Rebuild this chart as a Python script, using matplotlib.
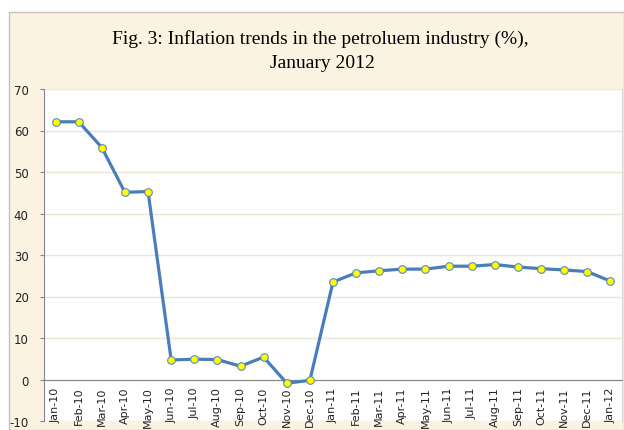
# Fig. 3: Inflation trends in the petroleum industry (%)

import matplotlib.pyplot as plt
from matplotlib.patches import Rectangle

months = ['Jan-10', 'Feb-10', 'Mar-10', 'Apr-10', 'May-10', 'Jun-10', 'Jul-10',
          'Aug-10', 'Sep-10', 'Oct-10', 'Nov-10', 'Dec-10', 'Jan-11', 'Feb-11',
          'Mar-11', 'Apr-11', 'May-11', 'Jun-11', 'Jul-11', 'Aug-11', 'Sep-11',
          'Oct-11', 'Nov-11', 'Dec-11', 'Jan-12']
inflation = [62.1, 62.1, 55.9, 45.1, 45.3, 4.7, 4.9, 4.8, 3.2, 5.4, -0.9, -0.2,
             23.5, 25.7, 26.2, 26.6, 26.6, 27.3, 27.3, 27.7, 27.1, 26.7, 26.4,
             26.0, 23.7]
yticks = [-10, 0, 10, 20, 30, 40, 50, 60, 70]

W, H = 624, 431
fig = plt.figure(figsize=(W / 100, H / 100), dpi=100, facecolor='white')

# beige panel behind everything
fig.patches.append(Rectangle((9 / W, 0), 1 - 9 / W, 1 - 13 / H,
                             transform=fig.transFigure, facecolor='#fcf2e1',
                             edgecolor='#c8c2b6', linewidth=1.0, zorder=-5))

ax = fig.add_axes([44 / W, 1 - 422 / H, (622 - 44) / W, (422 - 90) / H])
ax.set_facecolor('white')

# category axis crosses at zero (set before tick styling, it resets ticks)
ax.spines['bottom'].set_position(('data', 0))
ax.spines['bottom'].set_color('#868686')
ax.spines['left'].set_color('#868686')
ax.spines['top'].set_visible(False)
ax.spines['right'].set_color('#d9d9d9')
ax.spines['right'].set_linewidth(0.8)

x = list(range(len(months)))
ax.plot(x, inflation, color='#4a7ebb', linewidth=2.3, marker='o',
        markersize=5.5, markerfacecolor='#ffff00', markeredgecolor='#5b88bd',
        markeredgewidth=0.8, zorder=3)

ax.set_xlim(-0.5, len(months) - 0.5)
ax.set_ylim(-10, 70)
ax.set_yticks(yticks)
ax.set_yticklabels([str(v) for v in yticks], fontsize=8.5, color='#222222')
ax.yaxis.grid(True, color='#ebe5d8', linewidth=1.0)
ax.set_axisbelow(True)

ax.set_xticks(x)
ax.set_xticklabels(months, rotation=90, fontsize=8, color='#222222',
                   va='top', ha='center')
ax.tick_params(axis='x', length=0, pad=5)
ax.tick_params(axis='y', length=3, color='#868686', pad=8)

fig.text(0.514, 1 - 44 / H, 'Fig. 3: Inflation trends in the petroluem industry (%),',
         ha='center', va='baseline', fontsize=14, family='Liberation Serif')
fig.text(0.516, 1 - 68 / H, 'January 2012', ha='center', va='baseline',
         fontsize=14, family='Liberation Serif')

fig.savefig('out.png', dpi=100, facecolor=fig.get_facecolor())
